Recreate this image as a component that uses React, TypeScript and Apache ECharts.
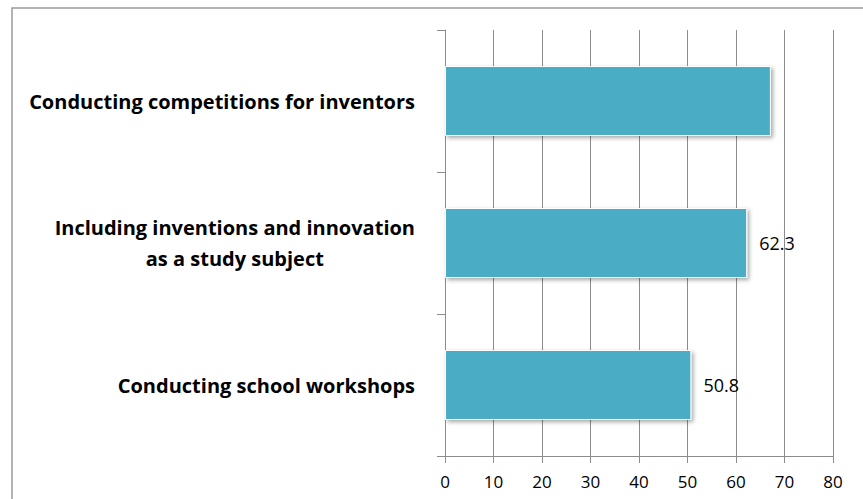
import React, { useEffect, useRef } from "react";
import * as echarts from "echarts";

const categories: string[] = [
  "Conducting school workshops",
  "Including inventions and innovation\nas a study subject",
  "Conducting competitions for inventors",
];
const values: number[] = [50.8, 62.3, 67.2];
const showValueLabel: boolean[] = [true, true, false];
const xTicks: number[] = [0, 10, 20, 30, 40, 50, 60, 70, 80];

const LABEL_FONT = "Open Sans";
const LABEL_SIZE = 20;

export default function App() {
  const ref = useRef<HTMLDivElement>(null);
  useEffect(() => {
    if (!ref.current) return;
    const chart = echarts.init(ref.current, undefined, { renderer: "svg" });

    const ctx = document.createElement("canvas").getContext("2d");
    const measure = (s: string) => {
      if (!ctx) return s.length * 11;
      ctx.font = `bold ${LABEL_SIZE}px "${LABEL_FONT}"`;
      return ctx.measureText(s).width;
    };

    chart.setOption({
      animation: false,
      backgroundColor: "#ffffff",
      graphic: [
        {
          type: "rect",
          shape: { x: 12, y: 8, width: 900, height: 600 },
          style: { fill: "none", stroke: "#9a9a9a", lineWidth: 1.5 },
          silent: true,
        },
      ],
      grid: { left: 445, right: 30, top: 30, bottom: 43, containLabel: false },
      xAxis: {
        type: "value",
        min: 0,
        max: 80,
        interval: 10,
        axisLine: { show: true, lineStyle: { color: "#8c8c8c", width: 1 } },
        axisTick: { show: true, length: 7, lineStyle: { color: "#8c8c8c" } },
        splitLine: { show: true, lineStyle: { color: "#8c8c8c", width: 1 } },
        axisLabel: {
          margin: 17,
          color: "#000",
          fontFamily: LABEL_FONT,
          fontSize: 17,
          formatter: (v: number) => (xTicks.includes(v) ? String(v) : ""),
        },
      },
      yAxis: {
        type: "category",
        data: categories,
        axisLine: { show: true, lineStyle: { color: "#8c8c8c", width: 1 } },
        axisTick: { show: true, length: 8, lineStyle: { color: "#8c8c8c" } },
        splitLine: { show: false },
        axisLabel: {
          margin: 30,
          color: "#000",
          fontFamily: LABEL_FONT,
          fontSize: LABEL_SIZE,
          fontWeight: "bold",
          lineHeight: 31,
          formatter: (v: string) => {
            if (v.includes("\n")) {
              return v
                .split("\n")
                .map((l) => `{c|${l}}`)
                .join("\n");
            }
            return v;
          },
          rich: {
            c: {
              width: measure("Including inventions and innovation"),
              align: "center",
              fontFamily: LABEL_FONT,
              fontSize: LABEL_SIZE,
              fontWeight: "bold",
              color: "#000",
              lineHeight: 31,
            },
          },
        },
      },
      series: [
        {
          type: "bar",
          barWidth: 70,
          data: values.map((v, i) => ({
            value: v,
            label: { show: showValueLabel[i] },
          })),
          itemStyle: {
            color: "#4bacc6",
            borderColor: "#ffffff",
            borderWidth: 1,
            shadowBlur: 4,
            shadowColor: "rgba(0,0,0,0.35)",
            shadowOffsetX: 2,
            shadowOffsetY: 2,
          },
          label: {
            position: "right",
            distance: 12,
            color: "#000",
            fontFamily: LABEL_FONT,
            fontSize: 18,
          },
        },
      ],
    });
    return () => chart.dispose();
  }, []);
  return (
    <div
      ref={ref}
      style={{ position: "fixed", left: 0, top: 0, width: 863, height: 499 }}
    />
  );
}
